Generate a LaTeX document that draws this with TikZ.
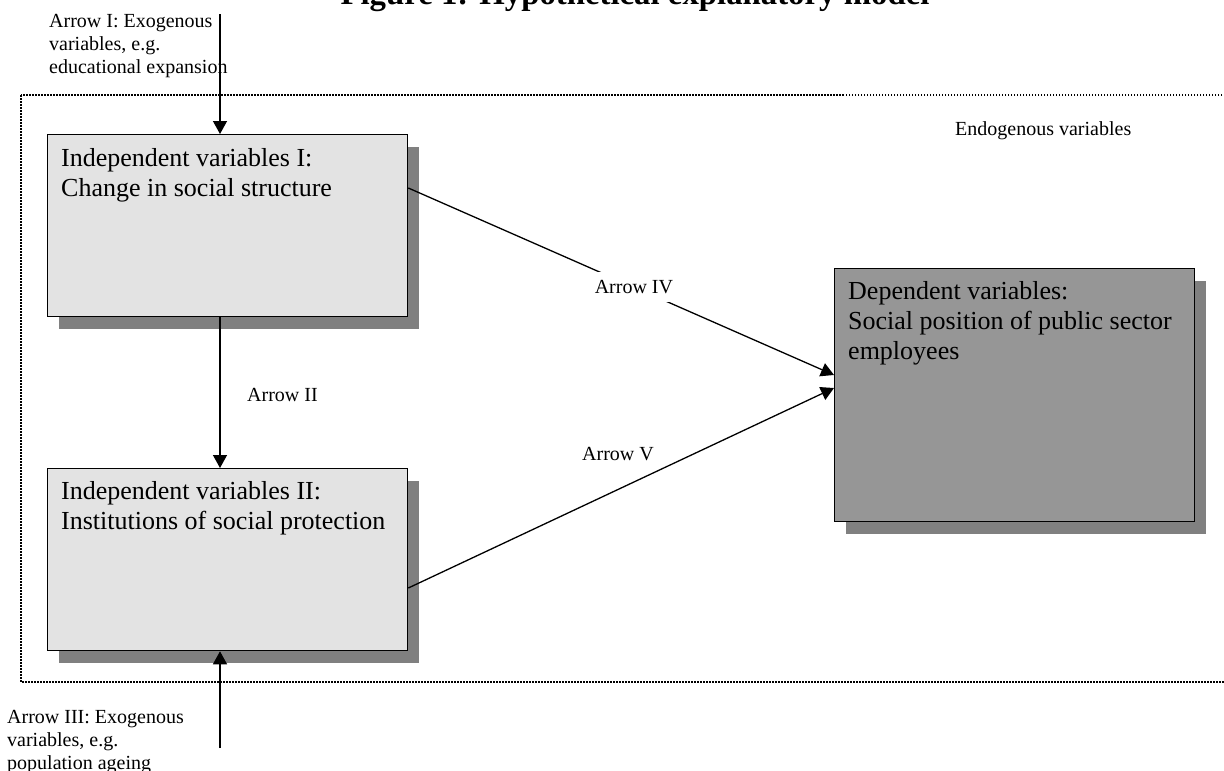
\documentclass[tikz,border=0pt]{standalone}
\usepackage{fontspec}
\setmainfont{Liberation Serif}
\usetikzlibrary{arrows.meta,shadows}
\definecolor{boxlight}{RGB}{227,227,227}
\definecolor{boxdark}{RGB}{150,150,150}
\definecolor{shadowgray}{RGB}{128,128,128}
\begin{document}
\begin{tikzpicture}[x=1pt,y=-1pt,
  box/.style={draw=black, line width=1.3pt, rectangle, anchor=north west,
    minimum width=360pt, minimum height=182pt, inner sep=0pt,
    drop shadow={shadow xshift=11pt, shadow yshift=-12pt, fill=shadowgray, opacity=1}},
  boxtext/.style={anchor=north west, align=left, inner sep=0pt, font=\fontsize{26}{30}\selectfont},
  small/.style={align=left, inner sep=0pt, font=\fontsize{20}{23}\selectfont},
  conn/.style={line width=1.3pt, -{Triangle[length=13pt,width=14pt]}},
  lbl/.style={fill=white, inner sep=8pt, font=\fontsize{20}{23}\selectfont},
  dotline/.style={line width=1.6pt, dash pattern=on 1.5pt off 1.5pt}]
\useasboundingbox (0,0) rectangle (1224,771);

% title (clipped at top as in the source)
\node[anchor=base, inner sep=0pt, font=\bfseries\fontsize{32.8}{36}\selectfont] (title) at (635,5) {Figure 1: Hypothetical explanatory model};

% endogenous frame
\draw[dotline] (21,95) rectangle (1260,682);
\node[small, anchor=base west] (endo) at (955,135) {Endogenous variables};

% boxes
\node[box, fill=boxlight] (b1) at (47,134) {};
\node[box, fill=boxlight] (b2) at (47,468) {};
\node[box, fill=boxdark, minimum height=253pt] (dep) at (834,268) {};

\node[boxtext] (t1) at ([shift={(14pt,-14pt)}]b1.north west) {Independent variables I:\\Change in social structure};
\node[boxtext] (t2) at ([shift={(14pt,-13pt)}]b2.north west) {Independent variables II:\\Institutions of social protection};
\node[boxtext] (t3) at ([shift={(14pt,-13pt)}]dep.north west) {Dependent variables:\\Social position of public sector\\employees};

% exogenous texts
\node[small, anchor=north west] (ex1) at (49,14) {Arrow I: Exogenous\\variables, e.g.\\educational expansion};
\node[small, anchor=north west] (ex3) at (7,710) {Arrow III: Exogenous\\variables, e.g.\\population ageing};

% connectors
\coordinate (a1s) at (220,14);
\coordinate (a3s) at (220,748);
\draw[conn] (a1s) -- (a1s |- b1.north);
\draw[conn] (a1s |- b1.south) -- (a1s |- b2.north);
\node[small, anchor=base west] (l2) at (247,401) {Arrow II};
\draw[conn] (a3s) -- (a3s |- b2.south);

\draw[conn] ([yshift=-54pt]b1.north east) -- node[lbl, pos=0.53] (l4) {Arrow IV} ([yshift=-107pt]dep.north west);
\draw[conn] ([yshift=-120pt]b2.north east) -- ([yshift=-120pt]dep.north west);
\node[small, anchor=base west, fill=white, inner sep=3pt] (l5) at (579,460) {Arrow V};
\end{tikzpicture}
\end{document}
